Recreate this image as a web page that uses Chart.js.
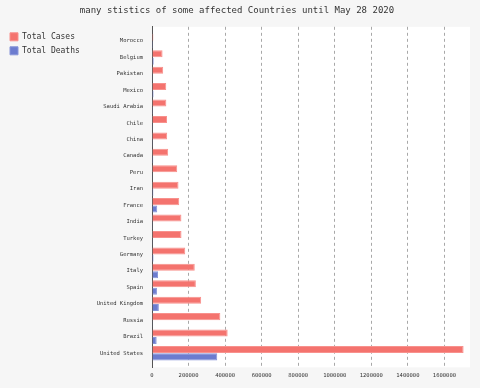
<!DOCTYPE html>
<html>
<head>
<meta charset="utf-8">
<script src="https://cdn.jsdelivr.net/npm/chart.js@4/dist/chart.umd.min.js"></script>
<style>
  html, body { margin: 0; padding: 0; background: #f6f6f6; }
  #wrap { width: 480px; height: 388px; position: relative; }
</style>
</head>
<body>
<div id="wrap"><canvas id="c"></canvas></div>
<script>
const countries = ["Morocco", "Belgium", "Pakistan", "Mexico", "Saudi Arabia", "Chile", "China", "Canada", "Peru", "Iran", "France", "India", "Turkey", "Germany", "Italy", "Spain", "United Kingdom", "Russia", "Brazil", "United States"];
const totalCases = [7600, 57800, 61200, 78000, 78500, 82300, 83000, 88500, 138000, 145000, 149000, 161000, 161500, 182000, 234000, 240000, 269000, 374000, 414000, 1705000];
const totalDeaths = [200, 9400, 1260, 8600, 430, 840, 4630, 6900, 4100, 7600, 28600, 4500, 4400, 8500, 33100, 27100, 37500, 4100, 25600, 357000];
const xTickLabels = [0, 200000, 400000, 600000, 800000, 1000000, 1200000, 1400000, 1600000];
const xMax = 1740000;

const plotBg = {
  id: 'plotBg',
  beforeDraw(chart) {
    const a = chart.chartArea, ctx = chart.ctx;
    ctx.save();
    ctx.fillStyle = '#ffffff';
    ctx.fillRect(a.left, a.top, a.right - a.left, a.bottom - a.top);
    ctx.restore();
  }
};

const mono = "'DejaVu Sans Mono', monospace";

new Chart(document.getElementById('c'), {
  type: 'bar',
  data: {
    datasets: [
      {
        label: 'Total Cases',
        data: totalCases.map((v, i) => ({ x: v, y: i })),
        backgroundColor: '#f4736e',
        borderColor: '#f8918d',
        borderWidth: 1
      },
      {
        label: 'Total Deaths',
        data: totalDeaths.map((v, i) => ({ x: v, y: i })),
        backgroundColor: '#6c7ccf',
        borderColor: '#8794d8',
        borderWidth: 1
      }
    ]
  },
  plugins: [plotBg],
  options: {
    indexAxis: 'y',
    responsive: true,
    maintainAspectRatio: false,
    animation: false,
    categoryPercentage: 0.9,
    barPercentage: 0.95,
    layout: { padding: { left: 4, right: 10, top: 0, bottom: 4 } },
    plugins: {
      title: {
        display: true,
        text: 'many stistics of some affected Countries until May 28 2020',
        color: '#333',
        font: { family: mono, size: 9, weight: 'normal' },
        padding: { top: 5, bottom: 11 }
      },
      legend: {
        display: true,
        position: 'left',
        align: 'start',
        fullSize: false,
        labels: {
          color: '#333',
          font: { family: mono, size: 8 },
          boxWidth: 8,
          boxHeight: 8,
          padding: 6
        }
      },
      tooltip: { enabled: false }
    },
    scales: {
      x: {
        type: 'linear',
        position: 'bottom',
        min: 0,
        max: xMax,
        offset: false,
        grid: {
          color: '#a8a8a8',
          drawTicks: false,
          tickLength: 0
        },
        border: { display: false, dash: [3, 3] },
        afterBuildTicks: s => { s.ticks = xTickLabels.map(v => ({ value: v })); },
        ticks: {
          padding: 5,
          color: '#333',
          font: { family: mono, size: 5.5 },
          maxRotation: 0,
          autoSkip: false,
          callback: v => String(v)
        }
      },
      y: {
        type: 'linear',
        reverse: true,
        offset: false,
        min: -0.865,
        max: 19.865,
        grid: { display: false, drawTicks: false, offset: false },
        border: { display: true, color: '#555', width: 1 },
        afterFit: s => { const lw = (s.chart.legend && s.chart.legend.width) || 82; s.width = 152 - 4 - lw; },
        ticks: {
          stepSize: 1,
          includeBounds: false,
          autoSkip: false,
          padding: 9,
          color: '#333',
          font: { family: mono, size: 5.5 },
          callback: v => Number.isInteger(v) ? (countries[v] || '') : ''
        }
      }
    }
  }
});
</script>
</body>
</html>
